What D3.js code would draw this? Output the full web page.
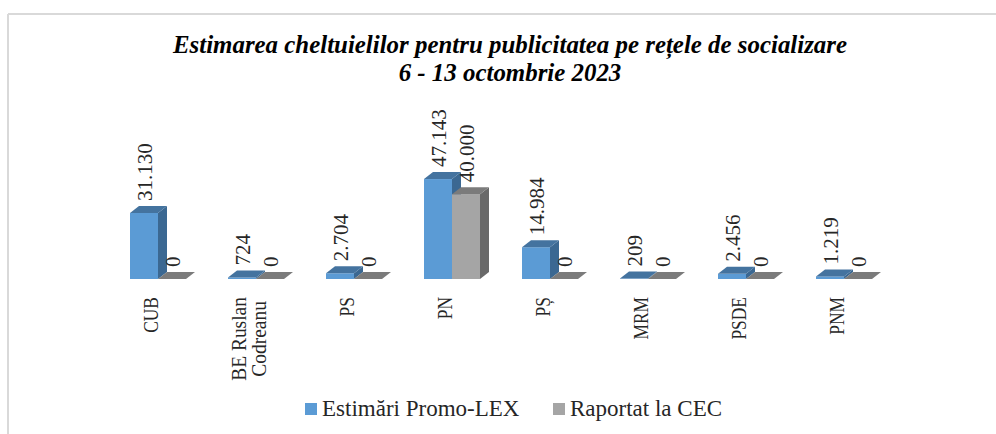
<!DOCTYPE html>
<html>
<head>
<meta charset="utf-8">
<script src="https://cdn.jsdelivr.net/npm/d3@7"></script>
<style>
html, body { margin: 0; padding: 0; background: #fff; }
svg { display: block; }
text { font-family: "Liberation Serif", serif; fill: #262626; }
</style>
</head>
<body>
<svg id="chart" width="996" height="434"></svg>
<script>
var categories = ["CUB", "BE Ruslan|Codreanu", "PS", "PN", "PȘ", "MRM", "PSDE", "PNM"];
var estimari = [31130, 724, 2704, 47143, 14984, 209, 2456, 1219];
var raportat = [0, 0, 0, 40000, 0, 0, 0, 0];
var seriesNames = ["Estimări Promo-LEX", "Raportat la CEC"];
var titleLines = ["Estimarea cheltuielilor pentru publicitatea pe rețele de socializare", "6 - 13 octombrie 2023"];

var colors = [
    {front: "#5b9bd5", top: "#44739f", side: "#3b6892"},
    {front: "#a5a5a5", top: "#7b7b7b", side: "#696969"}
];
var depth = {x: 9, y: 7};
var svg = d3.select("#chart");

var locale = d3.formatLocale({decimal: ",", thousands: ".", grouping: [3], currency: ["", ""]});
var fmt = locale.format(",d");

// frame, only top and left are visible in the crop
svg.append("line").attr("x1", 8).attr("x2", 996).attr("y1", 14).attr("y2", 14)
    .attr("stroke", "#d9d9d9").attr("stroke-width", 2);
svg.append("line").attr("x1", 8).attr("x2", 8).attr("y1", 14).attr("y2", 434)
    .attr("stroke", "#d9d9d9").attr("stroke-width", 2);

var x0 = d3.scaleBand().domain(categories).range([109, 893]).paddingInner(42 / 98).paddingOuter(21 / 98);
var x1 = d3.scaleBand().domain([0, 1]).range([0, x0.bandwidth()]);
var y = d3.scaleLinear().domain([0, 50000]).range([279, 173]);

svg.selectAll(".title").data(titleLines).enter().append("text")
    .attr("class", "title")
    .attr("x", 510)
    .attr("y", function(d, i){ return 53 + i * 28; })
    .attr("text-anchor", "middle")
    .style("font-size", "24.9px")
    .style("font-weight", "bold")
    .style("font-style", "italic")
    .style("fill", "#000")
    .text(function(d){ return d; });

var rows = [];
categories.forEach(function(c, i){
    rows.push({cat: c, s: 0, v: estimari[i]});
    rows.push({cat: c, s: 1, v: raportat[i]});
});
// draw right series after left, so the gray box covers the blue side
var bars = svg.selectAll(".bar").data(rows).enter().append("g").attr("class", "bar");

bars.each(function(d){
    var g = d3.select(this),
        l = x0(d.cat) + x1(d.s),
        r = l + x1.bandwidth(),
        b = y(0),
        t = y(d.v),
        c = colors[d.s];
    d.backTop = t - depth.y;
    d.mid = (l + r) / 2;
    if(d.v > 0){
        g.append("path").attr("fill", c.side)
            .attr("d", d3.line()([[r, t], [r + depth.x, t - depth.y], [r + depth.x, b - depth.y], [r, b]]));
        g.append("rect").attr("x", l).attr("y", t).attr("width", r - l).attr("height", b - t).attr("fill", c.front);
    }
    g.append("path").attr("fill", c.top)
        .attr("d", d3.line()([[l, t], [l + depth.x, t - depth.y], [r + depth.x, t - depth.y], [r, t]]));
});

bars.append("text")
    .attr("transform", function(d){ return "translate(" + (d.mid + 8) + "," + (d.backTop - 5) + ") rotate(-90)"; })
    .style("font-size", "21px")
    .text(function(d){ return fmt(d.v); });

// category labels, block is top aligned and lines are centered in it
var catLabels = svg.selectAll(".cat").data(categories).enter().append("g").attr("class", "cat");
catLabels.each(function(c){
    var lines = c.split("|"),
        g = d3.select(this),
        cx = x0(c) + x0.bandwidth() / 2 - 0.5,
        // lowercase runs wider in the reference than the capitals do
        squeeze = /[a-z]/.test(c) ? 0.95 : 0.85;
    var texts = g.selectAll("text").data(lines).enter().append("text")
        .attr("text-anchor", "middle")
        .style("font-size", "20.5px")
        .text(function(d){ return d; });
    var w = d3.max(texts.nodes(), function(n){ return n.getComputedTextLength(); }) * squeeze;
    texts.attr("transform", function(d, i){
        var px = cx + (i - (lines.length - 1) / 2) * 20;
        return "translate(" + px + "," + (297 + w / 2) + ") rotate(-90) scale(" + squeeze + ",1)";
    });
});

var legendX = [305, 553];
var legend = svg.selectAll(".legend").data(seriesNames).enter().append("g").attr("class", "legend");
legend.append("rect")
    .attr("x", function(d, i){ return legendX[i]; })
    .attr("y", 403).attr("width", 12).attr("height", 12)
    .attr("fill", function(d, i){ return colors[i].front; });
legend.append("text")
    .attr("x", function(d, i){ return legendX[i] + 17; })
    .attr("y", 416)
    .style("font-size", "23px")
    .text(function(d){ return d; });
</script>
</body>
</html>
